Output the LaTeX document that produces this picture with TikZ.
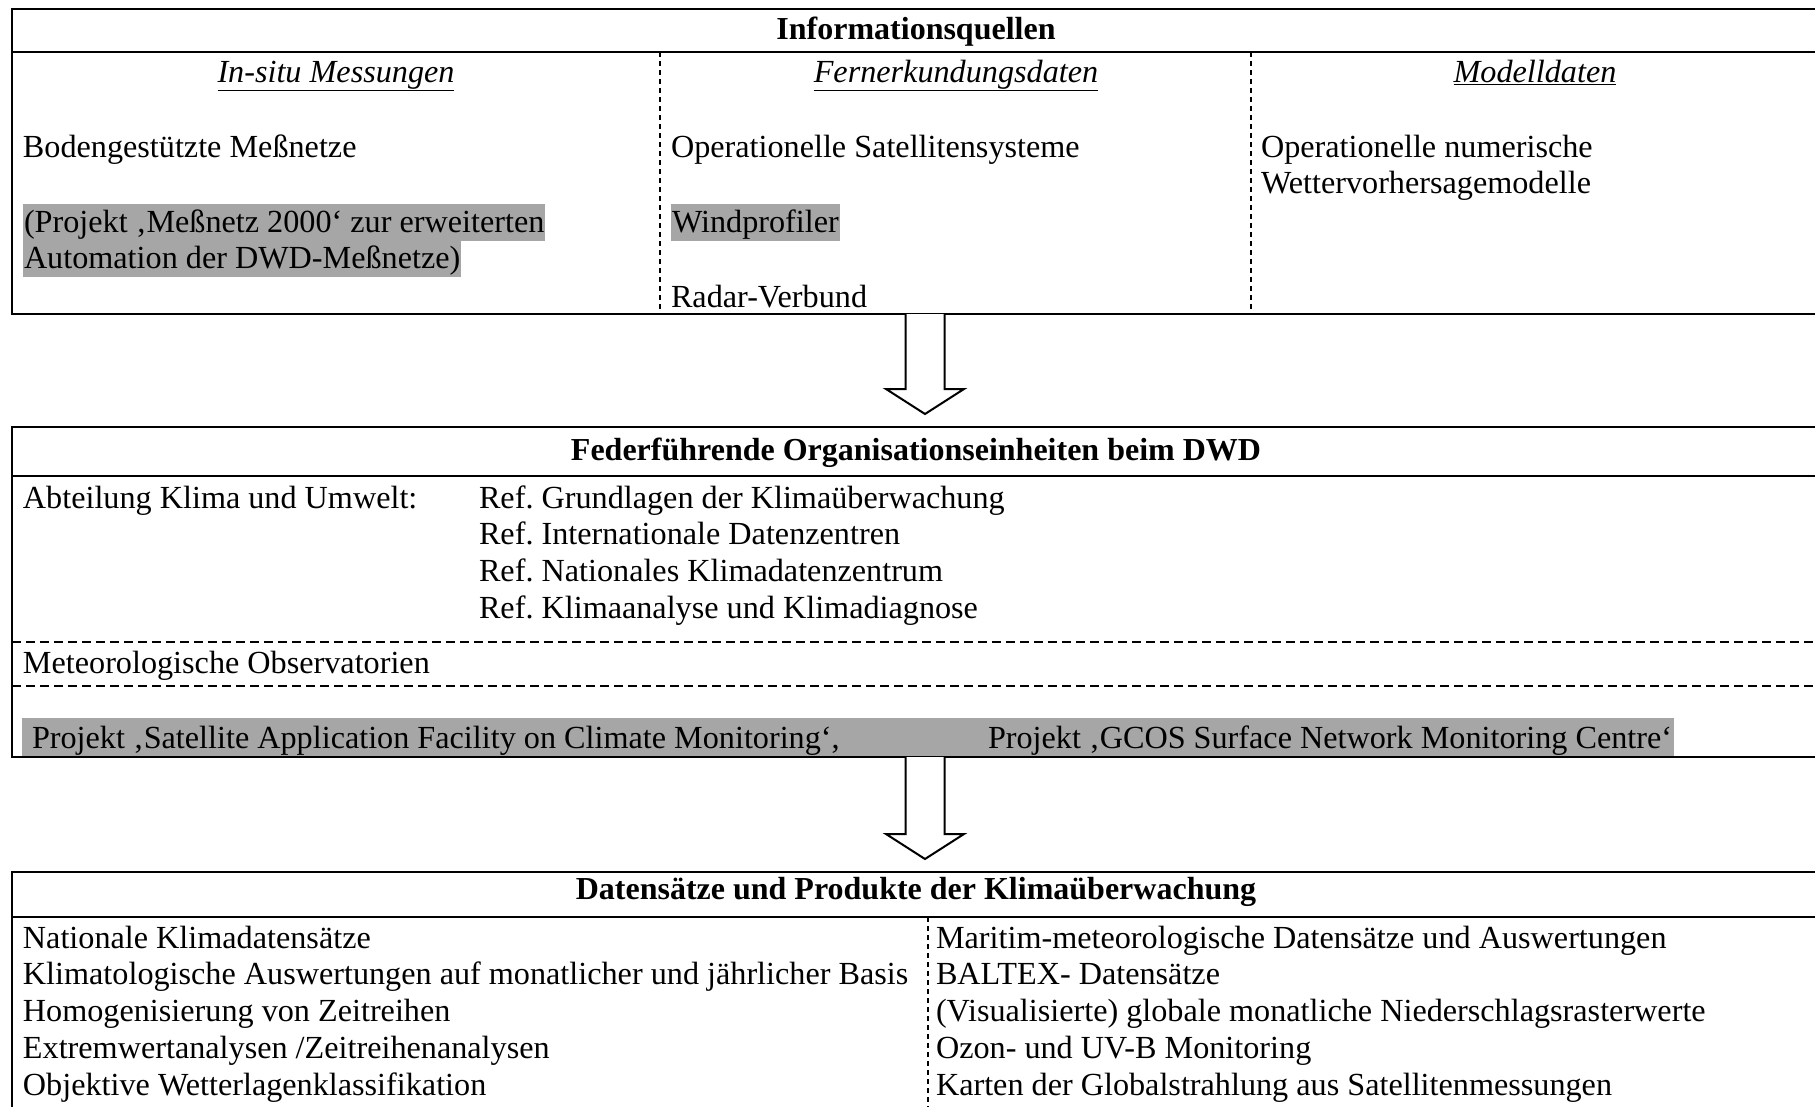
\documentclass[tikz,border=0pt]{standalone}
\usepackage{fontspec}
\setmainfont{Liberation Serif}
\usetikzlibrary{positioning,calc,backgrounds}

\begin{document}
\begin{tikzpicture}[x=1pt,y=-1pt,
    every node/.style={inner sep=0pt,outer sep=0pt,font=\fontsize{32.2}{37}\selectfont},
    box/.style={draw,line width=1.8pt,anchor=north west,minimum width=1808pt},
    txt/.style={anchor=base west},
    head/.style={anchor=base,font=\fontsize{32}{37}\selectfont\bfseries},
    colhead/.style={anchor=base,font=\fontsize{32.2}{37}\selectfont\itshape},
    hl/.style={fill=black!35,inner xsep=1pt,text height=28.5pt,text depth=8.5pt},
    band/.style={text height=30pt,text depth=9pt},
    sep/.style={line width=1.8pt},
    vdash/.style={line width=1.2pt,dash pattern=on 5pt off 4pt},
    hdash/.style={line width=1.2pt,dash pattern=on 9pt off 5pt},
    flow/.style={line width=2pt,fill=white,line join=miter}]
\useasboundingbox (0,0) rectangle (1815,1106);

% Informationsquellen
\node[box,minimum height=305pt] (src) at (12,9) {};
\draw[sep] (12,52) -- (1820,52);
\draw[vdash] (660,52) -- (660,314);
\draw[vdash] (1251,52) -- (1251,314);
\node[head] (srchead) at (916,39) {Informationsquellen};
\node[colhead] (insitu) at (336,82) {\underline{In-situ Messungen}};
\node[colhead] (fern) at (956,82) {\underline{Fernerkundungsdaten}};
\node[colhead] (model) at (1535,82) {\underline{Modelldaten}};
\node[txt] (boden) at (23,157) {Bodengestützte Meßnetze};
\node[txt,hl] (mess1) at (23,232) {(Projekt ‚Meßnetz 2000‘ zur erweiterten};
\node[txt,hl] (mess2) at (23,268) {Automation der DWD-Meßnetze)};
\node[txt] (sat) at (671,157) {Operationelle Satellitensysteme};
\node[txt,hl] (wind) at (671,232) {Windprofiler};
\node[txt] (radar) at (671,307) {Radar-Verbund};
\node[txt] (nwp1) at (1261,157) {Operationelle numerische};
\node[txt] (nwp2) at (1261,193) {Wettervorhersagemodelle};

% Organisationseinheiten
\node[box,minimum height=330pt] (org) at (12,427) {};
\draw[sep] (12,476) -- (1820,476);
\node[head] (orghead) at (916,460) {Federführende Organisationseinheiten beim DWD};
\node[txt] (abt) at (23,508) {Abteilung Klima und Umwelt:};
\foreach \t [count=\i from 0] in {Grundlagen der Klimaüberwachung,
    Internationale Datenzentren,Nationales Klimadatenzentrum,
    Klimaanalyse und Klimadiagnose}
  \node[txt] (ref\i) at (479,508+36.8*\i) {Ref.\ \t};
\draw[hdash] (12,642) -- (1820,642);
\node[txt] (obs) at (23,673) {Meteorologische Observatorien};
\draw[hdash] (12,686) -- (1820,686);
\node[txt,band] (saf) at (32,748) {Projekt ‚Satellite Application Facility on Climate Monitoring‘,};
\node[txt,band] (gcos) at (988,748) {Projekt ‚GCOS Surface Network Monitoring Centre‘};
\begin{scope}[on background layer]
  \fill[black!35] ([xshift=-10pt]saf.north west) rectangle ([xshift=2pt]gcos.south east);
\end{scope}

% Datensaetze und Produkte
\node[box,minimum height=260pt] (prod) at (12,872) {};
\draw[sep] (12,917) -- (1820,917);
\draw[vdash] (928,917) -- (928,1110);
\node[head] (prodhead) at (916,899) {Datensätze und Produkte der Klimaüberwachung};
\foreach \t [count=\i from 0] in {Nationale Klimadatensätze,
    Klimatologische Auswertungen auf monatlicher und jährlicher Basis,
    Homogenisierung von Zeitreihen,Extremwertanalysen /Zeitreihenanalysen,
    Objektive Wetterlagenklassifikation}
  \node[txt] (left\i) at (23,948+36.8*\i) {\t};
\foreach \t [count=\i from 0] in {Maritim-meteorologische Datensätze und Auswertungen,
    BALTEX- Datensätze,(Visualisierte) globale monatliche Niederschlagsrasterwerte,
    Ozon- und UV-B Monitoring,Karten der Globalstrahlung aus Satellitenmessungen}
  \node[txt] (right\i) at (936,948+36.8*\i) {\t};

% Blockpfeile
\foreach \from/\to in {src/org,org/prod}
  \draw[flow] ($(\from.south)+(-10.5,0)$) -- ($(\to.north)+(-10.5,-38)$)
    -- ($(\to.north)+(-30,-38)$) -- ($(\to.north)+(9,-13)$)
    -- ($(\to.north)+(48,-38)$) -- ($(\to.north)+(28.5,-38)$)
    -- ($(\from.south)+(28.5,0)$);
\end{tikzpicture}
\end{document}
